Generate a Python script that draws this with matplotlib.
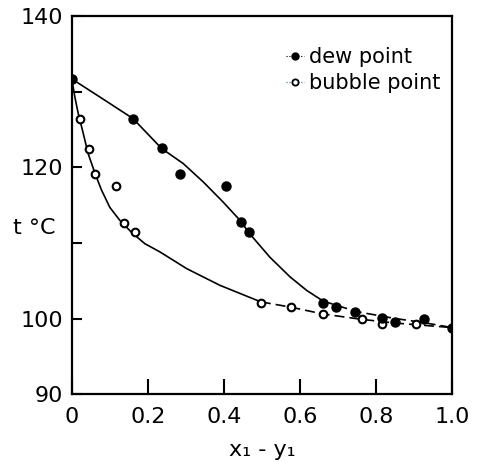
import matplotlib
matplotlib.use("Agg")
import matplotlib.pyplot as plt
from matplotlib.lines import Line2D

# measured points
dew_x = [0.0, 0.16, 0.237, 0.284, 0.405, 0.444, 0.466, 0.661, 0.695, 0.745, 0.815, 0.85, 0.925, 1.0]
dew_t = [131.7, 126.4, 122.5, 119.1, 117.5, 112.8, 111.5, 102.1, 101.5, 100.8, 100.1, 99.6, 99.9, 98.8]
bub_x = [0.021, 0.045, 0.06, 0.115, 0.136, 0.167, 0.497, 0.576, 0.66, 0.762, 0.816, 0.905]
bub_t = [126.4, 122.4, 119.1, 117.5, 112.6, 111.4, 102.1, 101.5, 100.6, 99.9, 99.3, 99.3]

# traced smooth curves (solid part, dashed part)
dew_curve_x = [0.0, 0.08, 0.161, 0.236, 0.293, 0.346, 0.398, 0.442, 0.468, 0.521, 0.574, 0.618, 0.661]
dew_curve_t = [131.7, 129.1, 126.45, 122.5, 120.5, 118.05, 115.4, 113.0, 111.2, 108.1, 105.5, 103.7, 102.3]
dew_dash_x = [0.661, 0.75, 0.85, 0.92, 1.0]
dew_dash_t = [102.3, 100.9, 100.0, 99.5, 98.8]
bub_curve_x = [0.0, 0.008, 0.017, 0.030, 0.043, 0.061, 0.078, 0.100, 0.126, 0.157, 0.192, 0.232, 0.302, 0.389, 0.497]
bub_curve_t = [131.7, 129.3, 127.1, 124.5, 121.8, 119.2, 117.0, 114.7, 113.0, 111.4, 109.9, 108.8, 106.6, 104.4, 102.2]
bub_dash_x = [0.497, 0.576, 0.66, 0.76, 0.85, 1.0]
bub_dash_t = [102.2, 101.5, 100.6, 99.9, 99.4, 98.8]

xticks = [0, 0.2, 0.4, 0.6, 0.8, 1.0]
xticklabels = ["0", "0.2", "0.4", "0.6", "0.8", "1.0"]
yticks = [90, 100, 110, 120, 130, 140]
yticklabels = ["90", "100", "", "120", "", "140"]

fig = plt.figure(figsize=(4.82, 4.62), dpi=100)
ax = fig.add_axes([0.149, 0.147, 0.789, 0.818])

ax.plot(dew_curve_x, dew_curve_t, color="black", lw=1.2, solid_joinstyle="round")
ax.plot(dew_dash_x, dew_dash_t, color="black", lw=1.2, dashes=(6, 3))
ax.plot(bub_curve_x, bub_curve_t, color="black", lw=1.2, solid_joinstyle="round")
ax.plot(bub_dash_x, bub_dash_t, color="black", lw=1.2, dashes=(6, 3))

ax.plot(bub_x, bub_t, "o", ms=5.5, mfc="white", mec="black", mew=1.5, ls="none")
ax.plot(dew_x, dew_t, "o", ms=6.5, color="black", ls="none")

ax.set_xlim(0, 1.0)
ax.set_ylim(90, 140)
ax.set_xticks(xticks)
ax.set_xticklabels(xticklabels)
ax.set_yticks(yticks)
ax.set_yticklabels(yticklabels)
ax.tick_params(axis="x", direction="in", length=11, width=1.5, labelsize=16, pad=9)
ax.tick_params(axis="y", direction="in", length=7, width=1.5, labelsize=16, pad=6)
for s in ax.spines.values():
    s.set_linewidth(1.6)

ax.set_xlabel("x\u2081 - y\u2081", fontsize=16, labelpad=10)
ax.set_ylabel("t \u00b0C", fontsize=16, rotation=0, va="center", ha="center")
ax.yaxis.set_label_coords(-0.10, 0.44)

handles = [
    Line2D([], [], marker="o", color="black", ms=5, ls=":", lw=0.8),
    Line2D([], [], marker="o", mfc="white", mec="black", mew=1.3, ms=4.5, ls=":", lw=0.8),
]
ax.legend(handles, ["dew point", "bubble point"], loc="upper right", frameon=False,
          fontsize=15, handlelength=0.9, handletextpad=0.2, labelspacing=0.3,
          borderaxespad=0.0, bbox_to_anchor=(0.99, 0.94), markerfirst=True)

fig.savefig("out.png", dpi=100)
